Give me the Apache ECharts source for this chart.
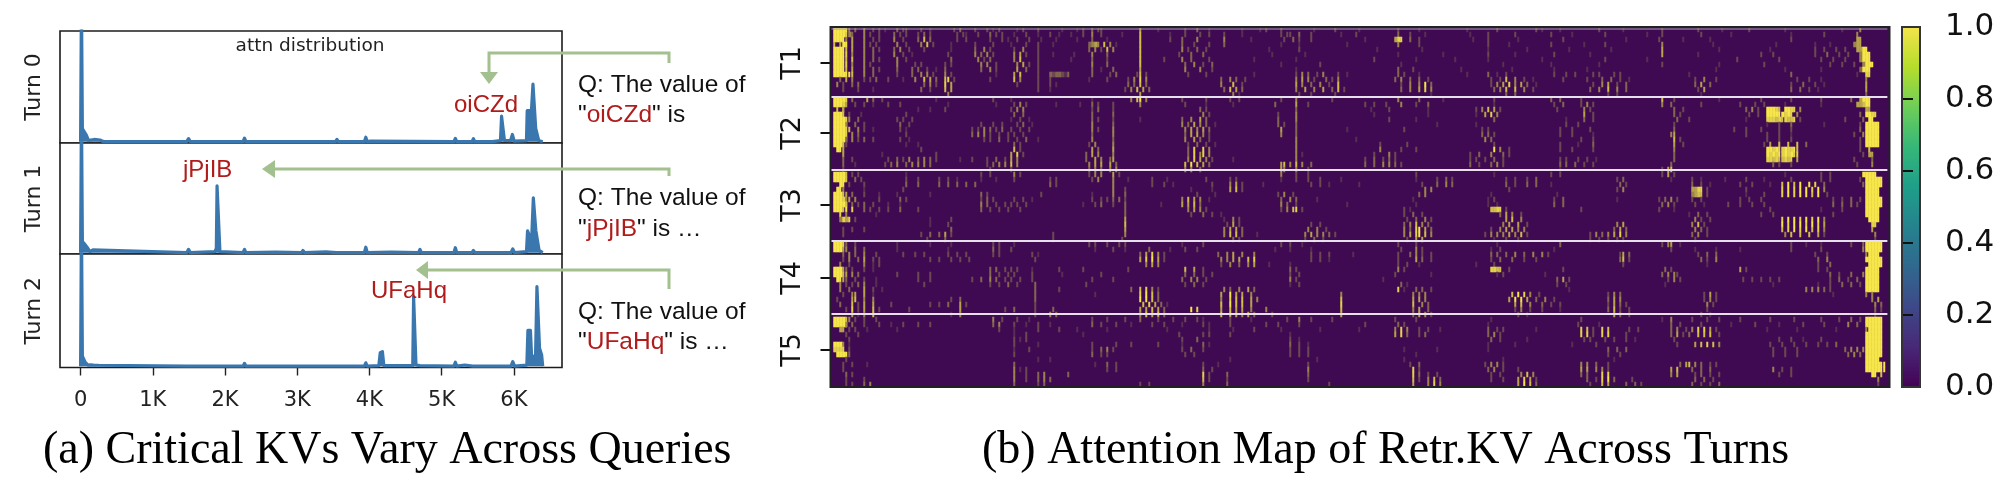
<!DOCTYPE html>
<html><head><meta charset="utf-8">
<style>html,body{margin:0;padding:0;background:#fff}#c{width:2000px;height:480px;filter:blur(0.65px)}</style>
<script src="https://cdn.jsdelivr.net/npm/echarts@6/dist/echarts.min.js"></script></head>
<body><div id="c"></div>
<script>
const xTickValues=[0,1000,2000,3000,4000,5000,6000];
const xTickLabels=['0','1K','2K','3K','4K','5K','6K'];
const turnNames=['Turn 0','Turn 1','Turn 2'];
const turn0X=[0,12,25,50,80,110,140,190,215,270,300,330,1470,1495,1520,1800,1815,2250,2270,2290,3120,3130,3530,3550,3570,3930,3950,3970,4020,5170,5190,5210,5420,5440,5460,5700,5720,5815,5830,5855,5870,5955,5980,6005,6175,6185,6215,6240,6265,6290,6303,6345,6400];
const turn0Y=[0,1.3,0.12,0.09,0.06,0.01,0.015,0.02,0.005,0.015,0.005,0,0,0.028,0,0,0.01,0,0.032,0,0,0.01,0,0.02,0,0,0.04,0,0.005,0,0.03,0,0,0.026,0,0,0.01,0.01,0.23,0.23,0.012,0.01,0.065,0.005,0.01,0.28,0.28,0.24,0.52,0.52,0.12,0.01,0];
const turn1X=[0,12,25,55,90,130,170,190,1470,1495,1520,1860,1880,1890,1915,1930,2250,2270,2290,2700,3060,3080,3100,3400,3540,3555,3570,3930,3950,3970,4300,4680,4700,4720,5170,5190,5210,5420,5440,5460,5960,5985,6010,6175,6190,6215,6245,6270,6290,6305,6350,6400];
const turn1Y=[0,1.3,0.1,0.08,0.05,0.01,0.025,0.01,0,0.03,0,0.01,0.04,0.61,0.61,0.01,0,0.03,0,0.005,0,0.02,0,0.008,0,0.015,0,0,0.05,0,0.005,0,0.03,0,0,0.045,0,0,0.02,0,0,0.035,0,0.01,0.2,0.2,0.1,0.5,0.5,0.2,0.02,0];
const turn2X=[0,12,25,60,100,140,180,250,1470,1495,1520,2250,2270,2290,3930,3950,3970,4130,4150,4180,4200,4600,4612,4632,4645,4700,5170,5190,5210,5320,5430,5445,5460,5960,5985,6010,6180,6195,6230,6245,6300,6320,6345,6356,6385,6400];
const turn2Y=[0,1.3,0.09,0.04,0.01,0.012,0.01,0.008,0,0.008,0,0,0.025,0,0,0.03,0,0.005,0.12,0.13,0.005,0.005,0.62,0.62,0.01,0.005,0,0.035,0,0.01,0,0.015,0,0,0.04,0,0.01,0.32,0.32,0.1,0.07,0.71,0.71,0.16,0.1,0];
const yTickRows=[7.2,21.2,35.6,50.2,64.6];
const yTickLabels=['T1','T2','T3','T4','T5'];
const separatorRows=[0.4,14,28.6,42.8,57.4];
const colorbarTicks=[0,0.2,0.4,0.6,0.8,1];
const heatCols=706;
const heatRowCount=72;
const heatRows=[
"1:99999 6:5.4 11:5 14:3.3 18:2 22:4.3 25:3 30:3..3 33:2 41:3.4 48:3 52:3.2 56:3 62:2.3 69:3 77:2 82:2 84:3 87:4.3 90:3 103:6 109:2 118:3 122:4 126:2 137:2 143:2.3 150:3 161:2 168:3 176:2 189:3 196:2 212:2 222:3 235:3.2 243:2 256:3 264:2 277:3 289:3 297:2 306:3 318:2 337:2 343:5",
"1:99998 6:54 11:5 13:3 16:3 21:4 23:3 25:3 29:3 31:4.3 42:3.3 45:2 49:3 53:4.3 57:3 61:2 65:3 69:2 73:3 76:2 80:2 84:3 87:5 90:3 97:2 103:7 113:2 118:3 123:3 126:3 131:3 137:2 150:3.3 153:3 156:4 160:3 170:2 175:3 189:4 193:3 198:2 213:2 219:3 228:3 240:3 247:2 258:3 272:2 277:3 290:3 300:2 320:2 331:3 342:5",
"1:9999 5:5 7:6 11:5 14:3 16:3 21:5 24:3 29:4 31:7 33:4 42:3 45:3 53:3 57:3.2 62:3 66:3 70:2 75:2 82:2 87:4 92:2 103:7 113:3 117:4 122:5 131:5 140:2 151:3 154:4 156:3 160:3 178:2 188:688 193:4 196:3 214:2 219:3 229:2 244:3 265:2 276:3 284:2 293:2 320:3 342:66",
"1:7.6 4:99 7:6 11:5 13:3 15:3 22:5 25:3 30:5 32:7 34:3 40:2 48:3 54:3 60:2 65:3 69:3 74:2 86:4565 91:7.5 95:2 103:7 117:4 121:3 126:3 131:4 150:2 156:2 172:2 189:5 196:3 219:3 226:2 240:3 251:2 258:3 277:5 294:2 315:2 328:2 333:2 341:566",
"1:9999 5:7 7:6 11:5 14:4 16:3 21:4 23:5 26:3 31:3 40:2 48:4 51:5 53:3 61:3 64:5 69:3 86:4 88:5 90:3 92:7 94:5 103:7 117:5 119:3 122:4 125:3 146:2 156:3 182:2 197:2 219:2 232:2 246:2 260:2 277:6 296:2 313:2 328:3 331:3 335:3 338:3 342:6699",
"1:9999 5:8 7:5 11:5 14:4 21:5 24:3 27:2 39:3 48:5 50:4 52:5 54:3 61:5 63:6 65:3 69:3 74:2 81:2 87:5 92:4 103:7 116:3 120:4 124:4 147:2 158:2 189:2 204:2 219:3 228:2 241:3 253:2 277:6 289:2 310:3 314:3 328:3 332:4 336:3 339:3 343:5999",
"1:9999 5:7 7:7 11:5 14:4 16:3 22:5 25:3 40:4 49:5 51:3 53:4 61:5 63:7 69:3 80:2 87:4 92:3 103:7 111:3 117:5 120:4 126:3 141:2 155:2 181:3 195:2 208:2 219:2 237:2 258:3 272:2 302:3 316:3 330:3 334:3 338:3 343:5999",
"1:9999 5:8 7:5 11:5 13:3 22:5 28:3 30:3 38:3 40:3 50:5 52:5 55:3 62:5 64:6 66:3 69:3 87:5 92:4 103:7 118:4 121:5 124:3 127:4 150:2 163:3 190:2 224:2 240:2 256:2 277:3 296:2 311:3 333:3 337:3 341:3 344:5999",
"1:9999 5:7 7:6 11:5 14:4 16:3 22:4 27:4 29:4 32:3 35:2 38:4 50:4 53:5 55:3 62:6 65:4 69:3 87:4 90:2 94:4 103:6 118:5 123:5 127:3 155:2 189:4 194:3 210:2 227:2 241:2 252:2 295:2 318:2 330:2 343:4999",
"1:99999 6:9 7:7 11:5 14:4 22:3 27:4 30:5 32:5 34:3 38:5 40:3 55:2 61:6 63:7 69:3 73:4344324 87:4 93:3 95:4 102:3 103:7 105:3 119:3 125:3 141:2 155:3 157:5 159:4 162:3 164:5 169:3 172:2 189:4 191:3 196:2 212:2 219:4 222:2 225:3 241:3 245:3 248:3 254:3 256:3 261:3 263:3 286:2 320:4 342:2 345:88",
"3:4 5:6 7:5 11:3 13:3 15:4 19:3 24:2 28:5 31:7 33:6 35:4 38:7 39:8 41:3 53:3 61:7 63:5 69:3 73:3 86:2 92:3 99:3 101:5 103:8 105:5 130:4 133:5 135:4 138:3 155:5 157:6 159:5 161:3 165:4 167:3 169:5 188:4 190:5 193:4 196:4 199:3 220:3 223:3 225:7 228:5 231:3 234:2 244:3 252:3 257:4 260:4 263:3 266:2 288:3 291:5 295:3 322:3 326:3 330:2 345:5",
"2:5 4:3 7:4 9:4 31:4 33:5 35:3 38:8 40:6 62:3 69:3 73:3 75:2 99:4 101:4 103:7 105:4 130:5 134:7 137:3 155:6 157:5 160:4 163:5 166:3 169:7 190:3 193:5 196:5 198:9 200:4 220:3 222:5 224:6 226:8 228:5 230:6 232:4 235:2 254:3 257:5 259:6 262:3 265:4 288:4 290:6 293:4 320:3 324:4 328:3 331:2 345:6",
"4:3 9:3 14:2 30:4 33:3 38:7 40:6 69:3 73:2 98:3 100:5 102:7 104:6 106:4 131:4 133:7 135:6 137:4 155:5 158:6 161:5 164:6 167:4 169:7 171:3 190:4 193:5 196:6 198:8 200:5 221:4 223:5 225:7 228:7 231:5 234:3 253:4 256:5 259:7 262:5 265:4 289:3 291:6 320:4 323:4 326:3 329:2 345:6",
"39:5 103:6 134:5 136:2 156:3 160:3 168:3 200:2 225:4 228:4 259:3 262:3 290:2 345:4",
"1:99998 7:4 12:6 14:4 17:3 35:2 54:3 60:2 87:2 100:5 102:7 103:9 105:5 117:3 125:3 133:3 136:3 150:3 155:5 167:3 189:5 196:4 204:2 221:3 240:4 243:4 250:3 277:7 281:3 296:2 310:3 320:3 330:3 340:4 343:6999",
"1:99986 8:3 11:3 14:2 19:3 23:3 39:2 55:2 61:3 63:5 65:3 75:2 83:2 87:4 89:3 94:3 103:5 118:3 125:2 134:2 148:4 155:6 159:3 178:3 181:3 185:3 190:5 195:3 199:4 221:2 241:3 244:4 250:3 252:5 254:3 277:5 280:4 290:3 303:3 308:3 311:3 318:2 330:2 342:66799",
"2:7.6 4:6 29:2 33:2 38:3 60:3 62:5 64:5 87:3 89:4 94:3 123:4 125:3 155:4 180:2 186:3 199:2 215:3 217:5 219:7 221:6 223:3 242:3 251:5 253:3 281:4 284:3 305:4 307:5 309:3 312:99987 318:9988 323:5 345:66",
"1:9997 6:3 10:2 25:3 61:4 64:4 87:4 94:4 124:5 126:3 149:3 155:5 181:2 199:2 215:2 218:6 220:8 222:5 251:6 254:3 281:4 283:3 306:3 309:3 312:99999 317:9898 322:5 343:4 345:9988",
"1:99998 6:5 9:4 22:3 24:3 27:3 60:2 63:3 66:2 87:4 89:3 94:3 103:2 117:4 120:5 123:6 125:4 149:4 155:5 186:3 195:2 221:4 245:2 251:4 254:3 282:4 286:3 305:2 312:888787 318:8778 323:3 338:3 344:4 346:99",
"1:99999 5:5 8:4 11:3 23:4 26:3 50:3 54:3 57:3 62:3 64:4 67:2 87:5 94:4 117:5 119:4 121:6 123:5 125:4 128:2 149:4 151:3 155:4 202:2 215:2 245:3 249:3 281:3 312:2 316:3 320:4 331:2 343:3 345:99999",
"1:99998 6:7 9:5 11:3 14:2 23:3 25:2 47:3 49:3 51:5 53:4 55:3 57:4 60:3 63:3 66:3 87:5 89:3 94:5 118:5 120:6 122:5 124:6 126:4 150:6 155:4 172:2 191:3 217:3 219:3 243:3 247:3 253:3 281:4 301:3 305:3 310:3 316:3 320:3 343:4 345:99999",
"1:99998 7:5 9:4 25:3 47:4 49:5 51:5 53:3 56:3 59:3 61:3 64:3 87:4 94:5 118:4 120:6 122:6 124:5 126:3 150:5 155:4 217:4 219:4 221:3 243:3 247:3 254:2 280:5 281:6 305:3 312:3 316:3 320:2 341:3 344:5 345:99999",
"1:99997 5:4 7:5 9:3 11:4 14:3 23:3 26:2 51:3 53:3 56:4 59:3 62:3 65:4 69:2 87:5 94:4 118:5 121:6 123:4 126:3 155:5 175:2 218:5 220:4 250:3 254:3 281:7 283:3 312:3 316:3 320:3 343:3 345:99999",
"1:9997 5:3 25:2 29:2 61:4 63:3 86:3 88:5 94:5 119:3 122:4 125:3 128:2 155:5 183:3 192:3 221:3 243:3 249:2 254:4 281:6 284:3 311:3 313:6 316:7 319:7 322:7 325:4 343:3 345:99999",
"2:99 4:6 30:3 61:7 63:3 87:6 89:4 94:6 119:4 121:8 124:8 126:5 155:5 183:5 190:3 195:3 221:9 223:5 226:3 243:3 247:3 254:3 281:5 312:99898 317:89889 322:7 343:3 346:7",
"4:6 17:2 35:3 60:6 62:8 64:3 85:4 87:6 89:5 94:5 119:4 121:8 123:5 124:8 126:5 155:5 157:2 181:3 186:5 188:3 213:3 216:4 220:5 224:4 226:3 281:4 312:98989 317:89898 322:8 344:3 346:66",
"4:4 7:3 19:3 22:4 24:3 26:5 29:4 31:5 33:4 35:3 43:2 47:3 52:3 55:4 58:3 60:6 62:5 85:4 88:6 90:5 93:4 94:6 119:5 121:8 123:6 125:5 127:3 134:2 155:5 178:3 181:4 184:3 186:4 188:3 213:3 215:3 218:3 221:4 224:3 243:3 245:3 249:3 252:3 255:2 281:4 312:88787 317:7878 322:6 341:3 347:4",
"4:4 8:2 18:3 20:4 22:5 25:4 27:5 29:5 31:5 33:4 52:3 54:4 56:5 58:5 60:7 62:5 86:5 88:6 90:6 93:6 95:4 118:7 120:9 122:7 124:6 126:4 150:6 151:7 153:5 155:7 157:5 160:4 178:4 181:4 184:5 186:5 188:4 190:3 213:4 216:3 220:4 222:5 224:3 243:4 245:4 248:4 251:3 254:3 280:4 314:4 316:3 320:3 342:3 347:5",
"4:3 53:3 60:3 86:4 88:5 90:4 93:5 95:5 118:5 120:5 123:4 150:6 151:5 155:5 159:3 243:2 277:3 279:6 280:7",
"1:99997 7:3 9:3 25:2 50:3 53:3 61:5 63:3 86:3 88:5 90:5 94:6 96:3 150:5 155:3 159:3 195:3 221:2 240:3 243:3 277:3 279:6 281:3 318:2 330:3 333:3 344:99999",
"1:99997 8:4 10:3 25:3 29:3 36:3 39:3 42:2 50:2 55:2 61:3 73:3 75:3 87:3 89:5 94:5 99:2 107:3 112:2 125:3 133:3 135:3 150:2 155:3 159:3 163:3 170:2 195:2 202:3 205:4 207:3 225:3 228:3 232:3 235:4 262:3 264:4 280:2 287:3 290:2 298:2 305:3 311:2 320:3 330:3 333:3 343:3 345:999999",
"3:99 6:3 11:3 25:4 29:4 36:4 39:4 42:4 45:4 48:4 73:4 75:3 94:5 107:3 111:3 114:2 127:3 133:5 135:6 137:3 144:2 160:3 163:3 166:2 176:2 197:3 202:4 205:5 207:4 225:4 228:3 232:4 235:4 240:2 263:4 265:3 287:4 290:3 293:2 303:3 307:3 313:2 317:7 319:9 321:7 323:9 326:9 328:8 331:4 344:4 345:999999",
"2:99 4:5 11:2 24:3 94:5 98:3 120:2 127:2 133:6 135:7 137:3 198:5 200:5 226:3 262:3 264:5 287:6688 292:3 305:3 317:8 319:9 321:8 323:9 325:9 327:8 329:9 331:5 345:99999",
"1:9997 5:6 7:4 11:3 16:2 22:2 33:2 50:4 52:3 70:3 87:2 94:5 98:4 122:3 128:2 149:3 151:5 154:3 196:4 198:5 220:2 242:2 287:5677 292:3 305:2 311:3 317:8 319:9 321:8 323:9 325:9 327:7 329:9 332:3 345:99999",
"1:99985 6:6 8:5 16:3 23:4 25:3 50:3 52:4 54:3 61:3 64:3 67:2 87:3 90:3 92:3 94:4 96:4 98:3 117:5 119:7 121:6 123:5 126:2 150:4 153:5 155:4 162:2 194:2 219:2 221:3 241:3 244:4 262:2 276:3 278:4 280:5 282:3 287:3 290:3 303:3 306:3 310:3 334:3 337:3 340:4 343:3 345:999999",
"1:99997 5:7 7:4 9:3 11:4 14:3 19:2 23:2 50:5 52:4 55:3 58:3 60:3 62:3 65:3 84:2 88:3 90:4 94:3 98:4 110:2 117:6 119:6 121:7 123:4 150:5 152:4 155:3 172:2 195:2 219:2 222:2 241:4 244:4 277:4 279:5 281:3 288:3 291:2 299:3 303:3 307:3 311:3 334:4 337:4 340:4 342:3 345:999999",
"1:9997 5:9 7:8 11:4 13:3 16:3 19:3 23:4 29:3 50:4 53:3 56:3 59:3 63:3 98:4 119:5 121:6 123:5 125:3 150:3 152:5 154:7 155:8 157:3 191:3 193:2 220:7788 225:3 250:3 276:3 281:2 313:3 330:2 337:3 345:99999",
"3:8 5:5 15:2 98:4 120:3 124:4 127:3 130:2 191:3 194:4 197:3 223:4 225:6 227:5 230:3 286:2 289:4 292:3 310:3 314:3 334:3 345:99999",
"3:5868 8:3 33:2 40:3 98:6 131:2 134:5 136:3 192:3 195:4 198:5 200:3 225:6 227:7 230:5 288:5 290:3 293:3 317:8 319:9 321:9 323:8 325:9 327:8 329:9 331:5 346:9999",
"33:2 39:3 98:7 132:3 134:6 136:3 160:3 163:3 191:4 193:5 195:7 197:5 199:4 224:5 226:6 229:6 232:3 262:5 264:6 287:5 289:7 291:3 317:9 319:8 321:9 323:9 325:8 327:9 329:8 331:6 347:88",
"4:3 7:3 11:3 40:4 98:6 131:5 133:6 135:6 137:4 159:5 162:5 165:3 191:5 193:4 195:8 196:9 198:6 200:4 220:3 223:5 225:6 227:6 229:5 231:5 261:4 263:6 265:4 288:5 290:4 292:3 317:7 319:8 321:9 323:8 325:9 327:7 329:8 331:5 347:6",
"4:3 30:3 33:4 36:4 38:6 40:3 74:3 98:5 131:5 133:7 135:7 137:4 142:2 158:5 160:6 162:5 164:5 166:4 168:3 191:5 193:6 195:8 196:9 198:7 200:5 218:3 220:5 222:5 224:5 226:6 228:5 230:7 232:3 253:3 255:5 257:4 259:5 261:6 263:8 265:5 287:4 289:5 292:3 318:5 320:7 323:7 326:7 329:6 331:3 348:5",
"32:3 38:4 74:3 97:3 134:4 136:3 158:3 161:4 164:3 192:3 195:6 197:6 221:2 225:3 229:3 253:3 256:3 259:3 262:3 264:3 288:3 348:3",
"1:9998 5:4 8:3 22:2 33:2 40:2 54:3 56:3 61:2 86:3 88:3 92:3 96:3 98:3 117:2 124:3 150:3 153:3 157:2 189:3 195:3 222:2 243:4 277:3 279:5 280:6 283:2 320:3 325:2 330:2 340:3 344:4 345:999999",
"1:9996 5:5 8:4 11:4 22:2 39:2 54:4 56:3 60:3 88:2 94:3 98:2 106:4 113:2 118:3 122:3 148:2 153:2 160:2 190:3 195:5 197:3 220:2 223:3 241:2 280:3 288:2 295:2 303:2 320:3 330:3 344:5 345:999999",
"4:4 6:5 8:4 11:5 15:3 24:3 28:3 31:3 39:3 42:3 45:3 54:3 56:3 67:3 69:2 103:4 105:6 107:8 109:5 111:3 129:4 132:5 134:6 137:5 141:5 160:3 163:3 166:3 174:2 189:3 193:4 195:5 197:3 200:3 220:4 222:4 225:4 228:5 231:4 234:5 237:5 239:3 263:3 264:6 266:4 289:3 292:4 295:4 328:3 332:3 345:5 346:9999",
"4:3 6:5 9:4 11:6 14:3 16:3 33:3 36:3 40:3 43:3 46:3 68:3 103:6 105:8 107:9 109:6 111:3 130:5 132:5 134:6 136:6 139:7 141:8 160:3 163:3 166:2 189:3 195:6 197:4 200:3 220:3 223:4 227:4 231:3 235:3 263:4 264:7 266:3 290:4 292:3 295:5 329:4 332:5 345:999999",
"3:5 6:3 11:5 14:2 16:3 105:5 107:6 109:5 130:3 133:5 136:4 139:5 141:6 146:2 153:2 189:3 192:3 196:2 215:2 221:3 264:3 292:2 329:3 333:4 346:99999",
"1:9996 5:4 7:3 11:3 14:2 53:4 55:4 58:3 60:3 62:3 67:2 76:3 84:3 99:3 118:7 121:6 124:3 153:4 155:3 189:5 191:3 220:8877 226:3 244:3 278:4 280:3 303:6 305:3 329:3 332:3 345:99999",
"1:9997 5:6 7:5 9:4 22:3 29:3 33:3 53:4 56:3 59:3 61:3 67:3 77:2 90:3 118:4 121:4 124:3 127:3 153:3 156:3 188:3 200:2 222:2 224:3 238:2 277:4 279:5 281:5 282:3 333:4 336:3 340:4 344:5 345:99999",
"2:99 4:6 5:4 8:3 11:3 15:2 29:3 33:3 47:3 50:4 53:5 55:4 58:3 60:3 63:3 67:3 87:3 94:3 117:4 120:5 122:5 125:3 153:5 155:3 184:2 242:4 244:6 246:3 279:3 281:5 283:3 304:3 307:3 310:3 313:3 316:3 333:3 336:4 339:3 342:4 345:99999",
"3:5 5:3 7:3 9:4 11:5 15:2 31:3 53:3 56:3 59:4 62:3 68:4 85:3 118:3 121:4 124:3 153:2 156:3 190:4 192:2 242:3 245:3 278:2 314:2 329:2 333:3 337:4 340:4 343:3 345:99999",
"3:5 6:4 11:6 14:3 17:2 68:4 76:3 100:4 103:7 105:8 107:5 109:3 131:5 133:4 136:5 139:6 141:4 189:8 191:2 195:4 197:4 200:3 246:2 325:5 327:5 329:5 331:4 333:3 345:99999",
"4:3 7:5 8:6 11:6 14:2 68:4 88:2 103:8 105:9 107:7 109:4 130:6 133:9 135:6 137:6 140:5 170:5 194:5 196:5 198:5 227:7 229:9 231:8 233:5 236:3 259:3 261:5 263:4 291:3 293:6 295:3 334:2 345:5 347:5",
"2:3 7:6 8:7 11:5 14:5 40:3 43:4 68:4 103:9 105:9 107:7 109:4 130:5 133:8 135:7 137:7 140:6 142:5 170:7 194:6 196:6 198:5 226:6 228:9 230:9 232:6 235:4 238:5 241:3 259:4 261:6 263:5 291:3 293:5 295:3 347:5 349:6",
"3:4 7:7 9:3 11:6 14:6 20:3 33:3 36:3 39:4 43:6 45:3 68:3 104:7 106:8 108:6 110:4 112:2 130:7 133:9 135:7 137:7 140:6 170:8 194:7 197:5 199:4 228:6 230:7 233:5 237:4 240:3 243:3 259:3 261:6 263:4 265:3 292:5 294:3 348:5 350:4",
"5:3 7:8 9:3 11:6 14:7 16:3 26:3 43:6 58:3 61:4 68:3 74:4 103:6 105:6 107:7 109:6 111:4 120:9 122:8 130:6 133:7 135:6 137:6 140:5 145:5 170:7 194:5 196:6 199:4 228:3 230:5 233:3 237:3 243:2 259:4 261:7 263:3 266:3 292:3 348:4 350:3",
"7:6 9:2 11:5 14:7 40:2 43:5 68:3 73:5 75:4 103:5 105:7 107:6 109:7 111:4 130:7 133:7 135:6 137:5 139:6 141:4 147:3 170:6 194:4 196:6 198:5 200:3 229:3 232:2 261:6 263:4 266:3 290:3 293:2 348:3",
"1:99997 6:5 8:3 11:3 15:3 54:5 57:3 62:3 66:2 87:3 92:3 98:3 103:4 109:3 114:3 118:3 122:3 124:2 133:3 140:2 152:3 156:5 160:3 167:3 188:3 195:3 220:2 250:3 277:2 280:5 287:3 292:3 296:3 303:3 313:3 321:3 330:3 336:3 340:4 343:3 345:999999",
"1:99998 5:5 7:4 11:3 16:3 20:2 24:3 29:3 33:3 54:4 56:5 61:3 65:2 69:3 73:2 87:4 90:3 95:3 100:2 107:3 111:3 117:2 124:3 126:2 133:3 145:3 149:3 156:3 178:3 189:4 191:3 219:2 249:3 256:2 280:4 283:3 290:3 300:2 308:3 316:2 324:3 331:3 339:5 342:4 345:999999",
"3:66 6:3 8:3 12:2 22:2 56:3 61:2 69:3 76:3 82:2 92:2 112:2 126:2 134:2 141:3 150:2 163:2 176:2 188:5 190:8 192:5 196:3 199:3 203:2 219:4 222:3 224:3 235:2 250:8 252:7 254:3 257:8 259:7 266:3 269:3 280:4 282:5 285:3 287:5 289:8 291:8 293:6 295:3 312:2 322:2 335:2 345:5 346:99999",
"5:3 9:3 61:2 65:3 84:2 116:3 124:3 126:3 133:3 153:2 188:6 190:8 192:4 196:3 198:4 219:4 221:5 223:3 250:8 252:8 254:3 257:8 259:8 265:3 280:4 282:6 284:3 286:4 289:7 291:7 293:7 296:3 345:999999",
"6:3 61:3 63:2 65:3 117:3 122:4 153:3 156:2 220:4 223:3 232:2 251:3 253:3 258:3 261:3 265:3 268:2 281:3 316:3 320:3 324:2 330:3 345:999999",
"1:9995 6:2 61:3 69:2 87:3 95:3 100:3 109:3 117:2 124:4 126:2 153:4 156:3 159:2 219:2 228:2 247:2 255:3 282:3 288:6 290:7 292:8 294:7 296:5 313:3 317:3 321:3 325:3 329:3 332:3 335:4 345:999999",
"1:8888 6:3 61:2 66:3 87:3 90:4 92:5 94:3 117:3 120:4 124:3 153:3 156:3 159:3 191:2 202:2 219:2 259:4 262:4 265:4 314:3 318:3 322:3 338:4 340:5 342:5 344:5 345:999999",
"2:9999 6:4 61:3 87:4 90:3 92:3 118:3 121:3 153:3 156:3 159:3 195:2 259:3 263:3 314:3 318:3 322:3 339:4 341:5 343:4 345:999999",
"5:3 69:2 73:2 133:2 162:2 191:2 224:2 261:2 345:99999",
"4:3 7:3 12:2 61:4 88:2 92:4 95:3 124:3 129:2 159:3 193:3 196:4 218:3 220:5 222:5 224:3 250:5 252:5 255:4 259:3 283:4 285:6 286:7 288:5 290:4 293:3 295:3 345:999999 351:9",
"4:3 61:5 63:2 65:3 92:3 95:3 124:4 127:3 159:5 194:8 196:3 219:4 221:5 224:3 229:3 250:6 252:6 255:5 257:5 259:3 280:6 282:7 287:4 290:4 293:4 314:5 317:3 320:3 345:999999 351:9",
"5:4 7:3 61:5 65:3 69:4 71:5 79:4 124:8 126:3 132:4 159:4 194:8 196:4 199:3 202:3 220:3 223:3 230:5 232:7 234:5 250:4 252:4 257:8 259:8 280:5 282:6 288:3 290:4 293:3 296:3 316:3 320:3 347:99 350:7",
"5:3 11:3 61:5 65:3 69:4 71:5 73:4 124:7 126:3 132:3 159:3 194:7 196:3 199:5 201:7 203:4 220:3 224:3 229:6 231:8 233:6 235:3 252:4 255:3 257:8 259:9 261:4 267:3 288:4 291:4 294:3 349:5",
"5:3 7:3 11:4 13:5 61:4 69:3 71:4 103:3 106:3 124:5 132:4 166:3 194:6 199:5 201:8 203:5 229:6 231:9 233:7 235:4 253:3 257:7 259:6 265:4 268:4 270:3 287:4 290:3 293:3 296:4 349:3",
"5:3 8:2 11:5 13:4 39:3 41:5 43:4 45:2 103:4 105:3 107:4 109:5 111:3 132:3 141:2 166:6 168:4 194:3 199:4 201:7 203:6 205:4 229:5 231:8 233:6 235:3 259:3 265:5 267:4 270:3 288:4 290:5 293:4 296:3 314:2 350:2",
"11:3 40:3 43:3 71:2 92:2 105:3 108:2 132:2 165:4 167:5 169:3 199:3 202:6 204:4 206:3 231:4 233:3 266:3 269:2 289:3 292:3",
"2:3 4:2 6:3 22:2 44:2 53:2 69:2 93:3 96:2 105:3 108:3 112:2 133:2 140:2 155:3 160:2 166:4 170:2 199:4 202:4 205:3 230:2 254:2 266:3 290:3 295:3 319:2 330:2 340:2 345:3 347:5 349:3 351:6"
];
const purple='#3f0a52', yellow='#f6e64a';
const heatData=[];
heatRows.forEach((row,r)=>{row.split(' ').forEach(seg=>{const p=seg.split(':');const c0=+p[0];const lv=p[1];
  [...lv].forEach((ch,i)=>{if(ch==='.')return;const c=(c0+i)*2;const v=+ch/9;
    if(c<heatCols)heatData.push([c,r,v]);
    if(i+1<lv.length&&lv[i+1]!=='.'&&c+1<heatCols)heatData.push([c+1,r,v]);});});});
const catCols=Array.from({length:heatCols},(_,i)=>String(i));
const catRows=Array.from({length:heatRowCount},(_,i)=>String(i));

const blue='#3b77af',mono='"DejaVu Sans"',sans='"Liberation Sans"',serif='"Liberation Serif"';
const panelA=[{top:31,height:112},{top:143,height:111},{top:254,height:113.5}];
const grids=panelA.map(p=>({left:60,width:502,top:p.top,height:p.height,show:true,borderColor:'#1c1c1c',borderWidth:1.6,backgroundColor:'#fff'}));
grids.push({left:830.5,width:1059,top:27,height:360,show:true,backgroundColor:purple,borderWidth:0});
grids.push({left:1902,width:18,top:27,height:360,show:false});
const xAxes=panelA.map((p,i)=>({gridIndex:i,type:'value',min:-285,max:6667,show:i===2,
  splitLine:{show:false},axisLine:{show:false,onZero:false},
  axisTick:{show:true,length:8,lineStyle:{color:'#222',width:1.4},customValues:xTickValues},
  axisLabel:{color:'#222',fontFamily:mono,fontSize:21,margin:23,customValues:xTickValues,
    formatter:v=>xTickLabels[xTickValues.indexOf(v)]}}));
const yAxes=panelA.map((p,i)=>({gridIndex:i,type:'value',min:-0.012,max:1,name:turnNames[i],nameLocation:'middle',nameGap:15,
  nameTextStyle:{fontFamily:mono,fontSize:22,color:'#222'},nameRotate:90,
  axisLine:{show:false},axisTick:{show:false},axisLabel:{show:false},splitLine:{show:false}}));
xAxes.push({gridIndex:3,type:'category',data:catCols,show:false});
yAxes.push({gridIndex:3,type:'category',data:catRows,inverse:true,show:false});
xAxes.push({gridIndex:3,type:'value',min:0,max:1,show:false});
yAxes.push({gridIndex:3,type:'value',min:0,max:heatRowCount,inverse:true,position:'left',z:10,
  splitLine:{show:false},axisLine:{show:false},
  axisTick:{show:true,length:10,lineStyle:{color:'#111',width:2},customValues:yTickRows},
  axisLabel:{color:'#111',fontFamily:mono,fontSize:27,rotate:90,margin:24,customValues:yTickRows,
    formatter:v=>yTickLabels[yTickRows.indexOf(v)]}});
xAxes.push({gridIndex:4,type:'value',min:0,max:1,show:false});
yAxes.push({gridIndex:4,type:'value',min:0,max:1,position:'right',interval:0.2,z:10,
  splitLine:{show:false},axisLine:{show:false},
  axisTick:{show:true,length:11,lineStyle:{color:'#111',width:2}},
  axisLabel:{color:'#111',fontFamily:mono,fontSize:31,margin:25,formatter:v=>v.toFixed(1)}});

const turnSeries=[[turn0X,turn0Y],[turn1X,turn1Y],[turn2X,turn2Y]].map((t,i)=>({type:'line',xAxisIndex:i,yAxisIndex:i,
  data:t[0].map((x,j)=>[x,t[1][j]]),symbol:'none',silent:true,clip:true,z:3,
  lineStyle:{color:blue,width:3.2,join:'round'},areaStyle:{color:blue,opacity:1}}));
const heatSeries={type:'heatmap',xAxisIndex:3,yAxisIndex:3,data:heatData,progressive:0,animation:false,silent:true,itemStyle:{borderWidth:0}};
const sepSeries=separatorRows.map((v,i)=>({type:'line',xAxisIndex:4,yAxisIndex:4,data:[[0,v],[0.998,v]],symbol:'none',silent:true,z:5,
  lineStyle:{color:i===0?'#a99db4':'#e7dfec',width:i===0?1.2:1.8}}));
const dummy={type:'scatter',xAxisIndex:5,yAxisIndex:5,data:[],silent:true};
const series=[...turnSeries,heatSeries,...sepSeries,dummy];

const green='#a3c08f',red='#b01c1c';
const gLine=(pts)=>({type:'polyline',shape:{points:pts},style:{stroke:green,lineWidth:3,fill:null},z:50,silent:true});
const gHead=(pts)=>({type:'polygon',shape:{points:pts},style:{fill:green},z:50,silent:true});
const gTxt=(x,base,text,size,fam,fill,align)=>({type:'text',x:x,y:base-size*0.32,z:60,silent:true,style:{text:text,fill:fill,font:size+'px '+fam,verticalAlign:'middle',align:align||'left'}});
const qRich=(x,base,k,tail)=>({type:'text',x:x,y:base-8,z:60,silent:true,style:{text:'{b|"}{r|'+k+'}{b|"'+tail+'}',verticalAlign:'middle',
  rich:{b:{fill:'#111',fontFamily:sans,fontSize:24.5},r:{fill:red,fontFamily:sans,fontSize:24.5}}}});
const graphic=[
 gLine([[669,63],[669,53],[489,53],[489,73]]),gHead([[480,72],[498,72],[489,84]]),
 gLine([[669,176],[669,169],[274,169]]),gHead([[275,160],[275,178],[262,169]]),
 gLine([[669,289],[669,270],[428,270]]),gHead([[428,261],[428,279],[416,270]]),
 gTxt(454,113,'oiCZd',24,sans,red),
 gTxt(183,178,'jPjIB',24,sans,red),
 gTxt(371,299,'UFaHq',24,sans,red),
 gTxt(310,52,'attn distribution',18.5,mono,'#222','center'),
 gTxt(578,93,'Q: The value of',24.5,sans,'#111'),qRich(578,123,'oiCZd',' is'),
 gTxt(578,206,'Q: The value of',24.5,sans,'#111'),qRich(578,237,'jPjIB',' is …'),
 gTxt(578,320,'Q: The value of',24.5,sans,'#111'),qRich(578,350,'UFaHq',' is …'),
 gTxt(43,466,'(a) Critical KVs Vary Across Queries',46,serif,'#000'),
 gTxt(982,466,'(b) Attention Map of Retr.KV Across Turns',46,serif,'#000'),
 {type:'rect',shape:{x:830.5,y:27,width:1059,height:360},style:{fill:null,stroke:'#222',lineWidth:2},z:40,silent:true},
 {type:'rect',shape:{x:1902,y:27,width:18,height:360},style:{fill:null,stroke:'#333',lineWidth:2},z:40,silent:true}
];
const chart=echarts.init(document.getElementById('c'),null,{width:2000,height:480,renderer:'canvas'});
chart.setOption({animation:false,backgroundColor:'#fff',grid:grids,xAxis:xAxes,yAxis:yAxes,series:series,graphic:graphic,
 visualMap:[
  {type:'continuous',show:false,seriesIndex:3,dimension:2,min:0,max:1,inRange:{color:[purple,'#5b3352','#8f7550','#cbb84c',yellow]}},
  {type:'continuous',show:true,seriesIndex:series.length-1,min:0,max:1,left:1902,top:27,itemWidth:18,itemHeight:360,padding:0,text:['',''],showLabel:false,calculable:false,hoverLink:false,
   inRange:{color:['#440154','#482878','#3e4989','#31688e','#26828e','#1f9e89','#35b779','#6ece58','#b5de2b','#f4e44c']}}
 ]});
</script></body></html>
